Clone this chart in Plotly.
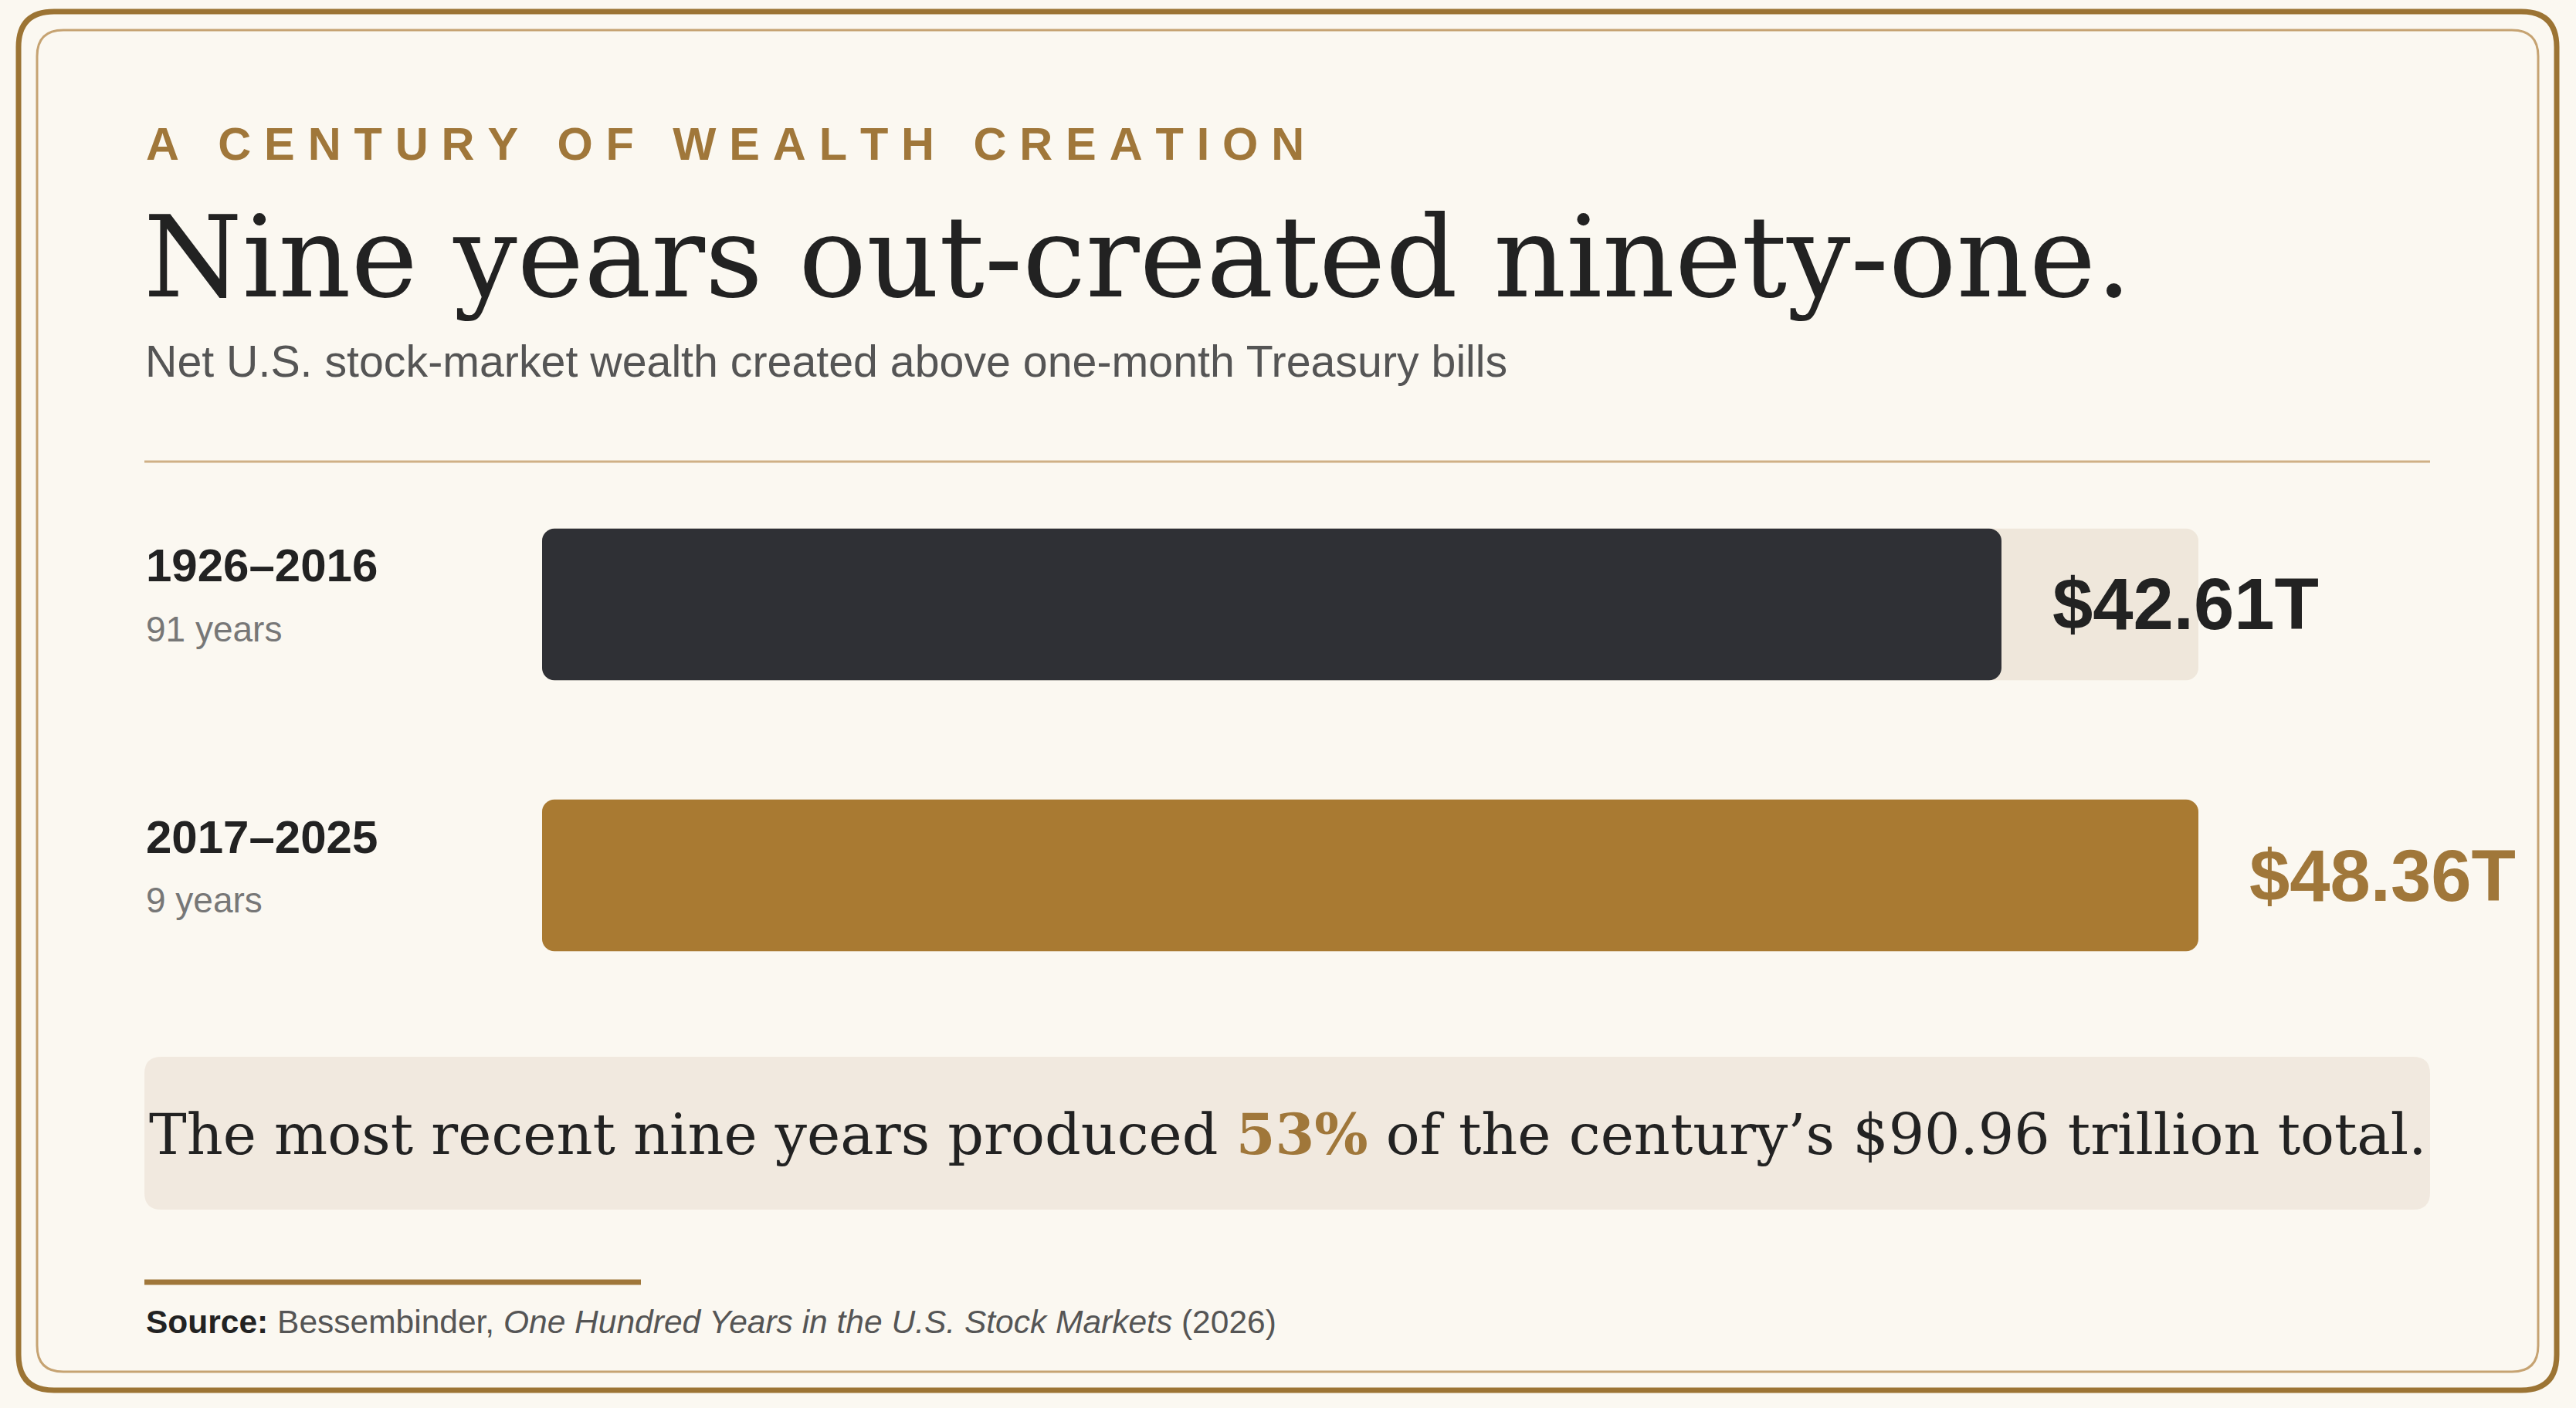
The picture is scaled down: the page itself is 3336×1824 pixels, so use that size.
import plotly.graph_objects as go

# data
periods = ["1926–2016", "2017–2025"]
spans = ["91 years", "9 years"]
wealth = [42.61, 48.36]  # $ trillions above T-bills
bar_colors = ["#2f3035", "#a97a32"]
label_colors = ["#222222", "#a0773a"]
share_recent = 53
total = 90.96

W, H = 3336, 1824
BG = "#fbf8f1"
GOLD = "#a0773a"
SANS = "Liberation Sans, Arial, Helvetica, sans-serif"
SERIF = "DejaVu Serif, Georgia, serif"


def px_x(x):
    return x / W


def px_y(y):
    return 1 - y / H


def rounded_rect(x0, y0, x1, y1, r):
    # pixel coords (top-left origin) -> paper path with rounded corners
    rx, ry = r / W, r / H
    a, b, c, d = px_x(x0), px_y(y0), px_x(x1), px_y(y1)
    return (f"M {a+rx},{b} L {c-rx},{b} Q {c},{b} {c},{b-ry} "
            f"L {c},{d+ry} Q {c},{d} {c-rx},{d} L {a+rx},{d} "
            f"Q {a},{d} {a},{d+ry} L {a},{b-ry} Q {a},{b} {a+rx},{b} Z")


track = [max(wealth)] * len(wealth)
zero = [0] * len(wealth)

fig = go.Figure()
# an explicit base makes plotly round both ends of the bar
fig.add_trace(go.Bar(x=track, base=zero, y=periods, orientation="h", width=0.56,
                     marker=dict(color="#efe7db", line=dict(width=0)),
                     hoverinfo="skip"))
fig.add_trace(go.Bar(x=wealth, base=zero, y=periods, orientation="h", width=0.56,
                     marker=dict(color=bar_colors, line=dict(width=0)),
                     hovertemplate="%{y}: $%{x}T<extra></extra>"))

ann = []
# row labels + value labels
for p, s, v, c in zip(periods, spans, wealth, label_colors):
    ann.append(dict(x=px_x(187), xref="paper", y=p, yref="y", yshift=50,
                    xanchor="left", yanchor="middle", showarrow=False,
                    text=f"<b>{p}</b>", font=dict(family=SANS, size=60, color="#222222")))
    ann.append(dict(x=px_x(187), xref="paper", y=p, yref="y", yshift=-32,
                    xanchor="left", yanchor="middle", showarrow=False,
                    text=s, font=dict(family=SANS, size=46, color="#777777")))
    ann.append(dict(x=v, xref="x", y=p, yref="y", xshift=64,
                    xanchor="left", yanchor="middle", showarrow=False,
                    text=f"<b>${v:.2f}T</b>", font=dict(family=SANS, size=94, color=c)))

kicker = "\u2009\u200a".join("A CENTURY OF WEALTH CREATION")
ann += [
    dict(x=px_x(187), y=px_y(186), text=f"<b>{kicker}</b>",
         font=dict(family=SANS, size=59.5, color=GOLD)),
    dict(x=px_x(184), y=px_y(333), text="Nine years out-created ninety-one.",
         font=dict(family=SERIF, size=146, color="#222222")),
    dict(x=px_x(186), y=px_y(468),
         text="Net U.S. stock-market wealth created above one-month Treasury bills",
         font=dict(family=SANS, size=57.3, color="#555555")),
    dict(x=px_x(1667), y=px_y(1469), xanchor="center",
         text=(f"The most recent nine years produced "
               f"<span style='color:{GOLD}'><b>{share_recent}%</b></span> "
               f"of the century’s ${total:.2f} trillion total."),
         font=dict(family=SERIF, size=73, color="#222222")),
    dict(x=px_x(187), y=px_y(1712),
         text=("<b>Source:</b> <span style='color:#555555'>Bessembinder, "
               "<i>One Hundred Years in the U.S. Stock Markets</i> (2026)</span>"),
         font=dict(family=SANS, size=42.5, color="#222222")),
]
for a in ann[-5:]:
    a.update(xref="paper", yref="paper", showarrow=False, yanchor="middle")
    a.setdefault("xanchor", "left")

shapes = [
    # outer + inner frame
    dict(type="path", path=rounded_rect(24, 15, 3311, 1801, 46),
         line=dict(color="#9c7434", width=7), xref="paper", yref="paper"),
    dict(type="path", path=rounded_rect(48, 39, 3287, 1777, 34),
         line=dict(color="#c6a372", width=3), xref="paper", yref="paper"),
    # divider
    dict(type="line", x0=px_x(187), x1=px_x(3147), y0=px_y(598), y1=px_y(598),
         line=dict(color="#cfb086", width=3), xref="paper", yref="paper"),
    # callout box
    dict(type="path", path=rounded_rect(187, 1369, 3147, 1567, 22),
         fillcolor="#f1e9df", line=dict(width=0), xref="paper", yref="paper",
         layer="below"),
    # short source rule
    dict(type="line", x0=px_x(187), x1=px_x(830), y0=px_y(1661), y1=px_y(1661),
         line=dict(color=GOLD, width=7), xref="paper", yref="paper"),
]

fig.update_layout(
    width=W, height=H,
    margin=dict(l=0, r=0, t=0, b=0),
    paper_bgcolor=BG, plot_bgcolor=BG,
    barmode="overlay", barcornerradius=16,
    showlegend=False,
    xaxis=dict(domain=[px_x(702), px_x(2847)], range=[0, max(wealth)],
               visible=False, fixedrange=True),
    yaxis=dict(domain=[px_y(1309.5), px_y(607.5)], range=[1.5, -0.5],
               categoryorder="array", categoryarray=periods,
               visible=False, fixedrange=True),
    annotations=ann,
    shapes=shapes,
)

# drop the default 8px page margin so the figure sits flush in the window
fig.write_html("out.html", config={"displayModeBar": False},
               post_script="document.body.style.margin='0';")
